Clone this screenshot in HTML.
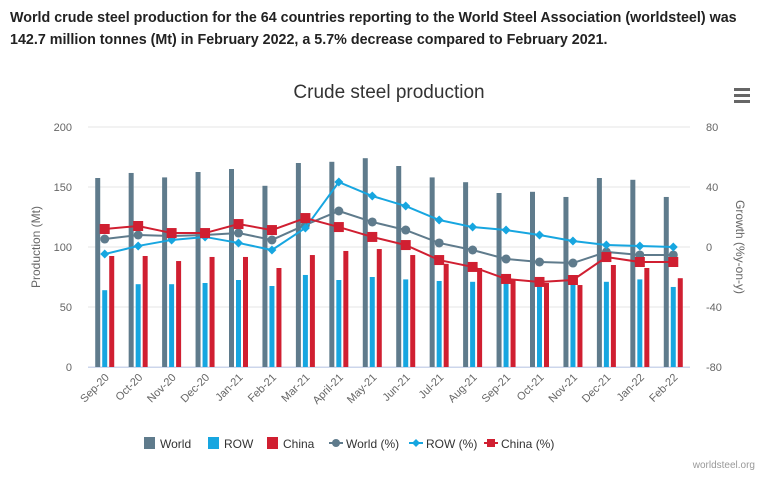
<!DOCTYPE html>
<html><head><meta charset="utf-8"><style>
body{margin:0;width:767px;height:483px;background:#fff;font-family:"Liberation Sans",sans-serif;overflow:hidden}
#hdr{position:absolute;left:10px;top:7px;width:750px;font-weight:bold;font-size:14.3px;line-height:22px;color:#222}
svg{position:absolute;left:0;top:0}
</style></head><body>
<div id="hdr">World crude steel production for the 64 countries reporting to the World Steel Association (worldsteel) was 142.7 million tonnes (Mt) in February 2022, a 5.7% decrease compared to February 2021.</div>
<svg id="c" width="767" height="483"></svg>
<script>
const categories=["Sep-20","Oct-20","Nov-20","Dec-20","Jan-21","Feb-21","Mar-21","April-21","May-21","Jun-21","Jul-21","Aug-21","Sep-21","Oct-21","Nov-21","Dec-21","Jan-22","Feb-22"];
const worldProd=[157.5,161.7,158,162.5,165,151,170,171,174,167.5,158,154,145,146,141.7,157.5,156,141.7];
const rowProd=[64,69,69,70,72.5,67.5,76.7,72.5,75,73,71.7,71,70,69,69,71,73,66.7];
const chinaProd=[92.5,92.5,88.3,91.7,91.7,82.5,93.3,96.7,98.3,93.3,86,82.5,72.5,70,68.3,85,82.5,74];
const worldPct=[5.3,8,7.3,8,9.3,4.7,14.7,24,16.7,11.3,2.7,-2,-8,-10,-10.7,-3.3,-5.3,-5.3];
const rowPct=[-4.7,0.7,4.7,6.7,2.7,-2,12.7,43.3,34,27.3,18,13.3,11.3,8,4,1.3,0.7,0];
const chinaPct=[12,14,9.3,9.3,15.3,11.3,19.3,13.3,6.7,1.3,-8.7,-13.3,-21.3,-23.3,-22,-6.7,-10,-10];
const leftTicks=[0,50,100,150,200];
const rightTicks=[-80,-40,0,40,80];

const NS="http://www.w3.org/2000/svg";
const svg=document.getElementById('c');
const X0=88,X1=690,YT=127,YB=367;
const bw=(X1-X0)/categories.length;
const yL=v=>YB-(v/200)*(YB-YT);
const yR=v=>YB-((v+80)/160)*(YB-YT);
const xc=i=>X0+bw*(i+0.5);
function mk(t,a,p){const e=document.createElementNS(NS,t);for(const k in a)e.setAttribute(k,a[k]);(p||svg).appendChild(e);return e;}
const COL={w:"#5f7b8c",r:"#17a6e0",c:"#d01f31"};

let t=mk('text',{x:389,y:98,'text-anchor':'middle','font-size':19,fill:'#333'});t.textContent="Crude steel production";


const m=mk('g',{});


[89,95,101].forEach(y=>mk('rect',{x:734,y:y-1,width:16,height:3,fill:'#666'},m));

leftTicks.forEach(v=>{
  const g=mk('line',{x1:X0,x2:X1,y1:yL(v),y2:yL(v),stroke:v==0?'#ccd6eb':'#e6e6e6','stroke-width':1});
  
  
  const l=mk('text',{x:72,y:yL(v)+4,'text-anchor':'end','font-size':11,fill:'#666'});l.textContent=v;
  
  
});
rightTicks.forEach(v=>{
  const l=mk('text',{x:706,y:yR(v)+4,'text-anchor':'start','font-size':11,fill:'#666'});l.textContent=v;
  
  
});
t=mk('text',{x:0,y:0,transform:'translate(40,247) rotate(-90)','text-anchor':'middle','font-size':12,fill:'#666'});t.textContent="Production (Mt)";


t=mk('text',{x:0,y:0,transform:'translate(736,247) rotate(90)','text-anchor':'middle','font-size':12,fill:'#666'});t.textContent="Growth (%y-on-y)";



categories.forEach((c,i)=>{
  const x=xc(i);
  let r=mk('rect',{x:x-9.5,y:yL(worldProd[i]),width:5,height:YB-yL(worldProd[i]),fill:COL.w});
  
  
  r=mk('rect',{x:x-2.5,y:yL(rowProd[i]),width:5,height:YB-yL(rowProd[i]),fill:COL.r});
  
  
  r=mk('rect',{x:x+4.5,y:yL(chinaProd[i]),width:5,height:YB-yL(chinaProd[i]),fill:COL.c});
  
  
  const l=mk('text',{x:0,y:0,transform:`translate(${x+5},${378}) rotate(-45)`,'text-anchor':'end','font-size':11,fill:'#666'});l.textContent=c;
  
  
});
mk('line',{x1:X0,x2:X1,y1:YB+0.5,y2:YB+0.5,stroke:'#ccd6eb'});

function series(vals,col,shape,name){
  const p=mk('polyline',{points:vals.map((v,i)=>xc(i)+','+yR(v)).join(' '),fill:'none',stroke:col,'stroke-width':2});
  
  
  vals.forEach((v,i)=>{
    const x=xc(i),y=yR(v);let e;
    if(shape=='c')e=mk('circle',{cx:x,cy:y,r:4.5,fill:col});
    else if(shape=='s')e=mk('rect',{x:x-5,y:y-5,width:10,height:10,fill:col});
    else e=mk('path',{d:`M${x} ${y-4.5}L${x+4.5} ${y}L${x} ${y+4.5}L${x-4.5} ${y}Z`,fill:col});
    
    
  });
}
series(worldPct,COL.w,'c','world-pct');
series(rowPct,COL.r,'d','row-pct');
series(chinaPct,COL.c,'s','china-pct');

const leg=[["World",'bar',COL.w,144],["ROW",'bar',COL.r,208],["China",'bar',COL.c,267],["World (%)",'c',COL.w,330],["ROW (%)",'d',COL.r,410],["China (%)",'s',COL.c,485]];
leg.forEach(([txt,k,col,x])=>{
  const g=mk('g',{});
  
  
  const y=443;
  if(k=='bar')mk('rect',{x:x,y:y-6,width:11,height:12,fill:col},g);
  else{
    mk('line',{x1:x-1,x2:x+13,y1:y,y2:y,stroke:col,'stroke-width':2},g);
    const cx=x+6;
    if(k=='c')mk('circle',{cx:cx,cy:y,r:4,fill:col},g);
    else if(k=='s')mk('rect',{x:cx-4,y:y-4,width:8,height:8,fill:col},g);
    else mk('path',{d:`M${cx} ${y-4}L${cx+4} ${y}L${cx} ${y+4}L${cx-4} ${y}Z`,fill:col},g);
  }
  const l=mk('text',{x:x+16,y:y+5,'font-size':12,fill:'#333'},g);l.textContent=txt;
});
t=mk('text',{x:755,y:468,'text-anchor':'end','font-size':10,fill:'#999'});t.textContent="worldsteel.org";


</script>
</body></html>
